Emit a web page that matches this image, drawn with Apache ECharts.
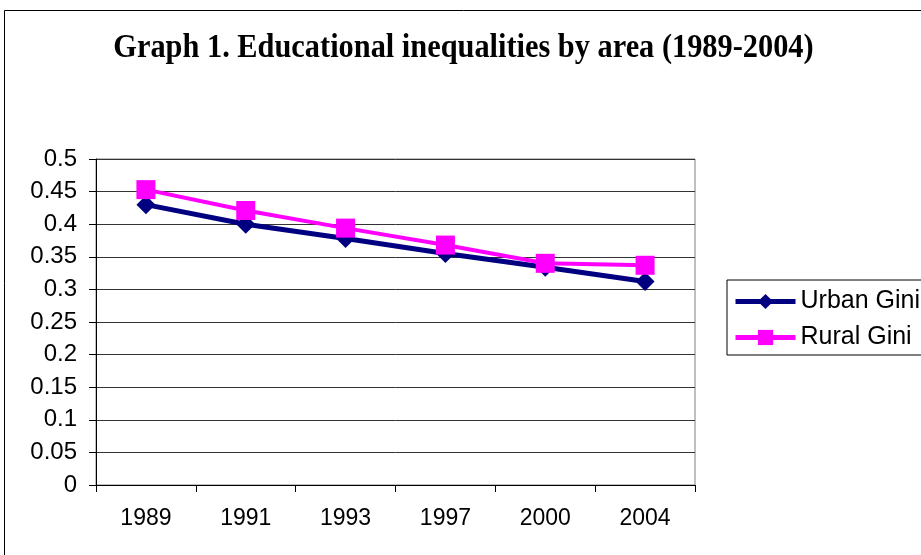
<!DOCTYPE html>
<html>
<head>
<meta charset="utf-8">
<script src="https://cdn.jsdelivr.net/npm/echarts@6/dist/echarts.min.js"></script>
<style>
  html, body { margin: 0; padding: 0; background: #fff; }
  #container { width: 921px; height: 555px; }
</style>
</head>
<body>
<div id="container"></div>
<script>
var years = ['1989', '1991', '1993', '1997', '2000', '2004'];
var urbanGini = [0.430, 0.400, 0.378, 0.355, 0.334, 0.312];
var ruralGini = [0.453, 0.421, 0.394, 0.368, 0.340, 0.337];
var chartTitle = 'Graph 1. Educational inequalities by area (1989-2004)';

var myChart = echarts.init(document.getElementById('container'));

var option = {
    backgroundColor: '#fff',
    animation: false,
    graphic: [
        {
            type: 'rect',
            shape: { x: 4.5, y: 10.5, width: 930, height: 560 },
            style: { fill: 'none', stroke: '#000', lineWidth: 1 },
            silent: true
        },
        {
            // title text, slightly condensed like the original
            type: 'text',
            x: 463.5,
            y: 48,
            scaleX: 0.92,
            silent: true,
            style: {
                text: chartTitle,
                fontFamily: 'Liberation Serif',
                fontWeight: 'bold',
                fontSize: 33,
                fill: '#000',
                align: 'center',
                verticalAlign: 'middle'
            }
        }
    ],
    legend: {
        orient: 'vertical',
        left: 727,
        top: 280,
        itemWidth: 60,
        itemHeight: 19,
        itemGap: 11,
        padding: [9, 4, 5, 6],
        borderColor: '#000',
        borderWidth: 1,
        lineStyle: { width: 5 },
        textStyle: {
            fontFamily: 'Liberation Sans',
            fontSize: 25,
            color: '#000'
        },
        data: ['Urban Gini', 'Rural Gini']
    },
    grid: {
        left: 96,
        top: 159,
        right: 226,
        bottom: 70,
        show: true,
        borderColor: '#808080',
        borderWidth: 1
    },
    xAxis: {
        type: 'category',
        data: years,
        boundaryGap: true,
        axisLine: { lineStyle: { color: '#000', width: 1 } },
        axisTick: { show: true, length: 7, lineStyle: { color: '#000' } },
        axisLabel: {
            margin: 22,
            fontFamily: 'Liberation Sans',
            fontSize: 23,
            color: '#000'
        }
    },
    yAxis: {
        type: 'value',
        min: 0,
        max: 0.5,
        interval: 0.05,
        axisLine: { show: true, lineStyle: { color: '#000', width: 1 } },
        axisTick: { show: true, length: 7, lineStyle: { color: '#000' } },
        splitLine: { lineStyle: { color: '#333', width: 1 } },
        axisLabel: {
            margin: 19,
            fontFamily: 'Liberation Sans',
            fontSize: 24,
            color: '#000',
            formatter: function (v) { return String(Math.round(v * 100) / 100); }
        }
    },
    series: [
        {
            name: 'Urban Gini',
            type: 'line',
            data: urbanGini,
            symbol: 'diamond',
            symbolSize: 19,
            itemStyle: { color: '#000080' },
            lineStyle: { color: '#000080', width: 5 }
        },
        {
            name: 'Rural Gini',
            type: 'line',
            data: ruralGini,
            symbol: 'rect',
            symbolSize: 19,
            itemStyle: { color: '#ff00ff' },
            lineStyle: { color: '#ff00ff', width: 4 }
        }
    ]
};

myChart.setOption(option, true);
</script>
</body>
</html>
